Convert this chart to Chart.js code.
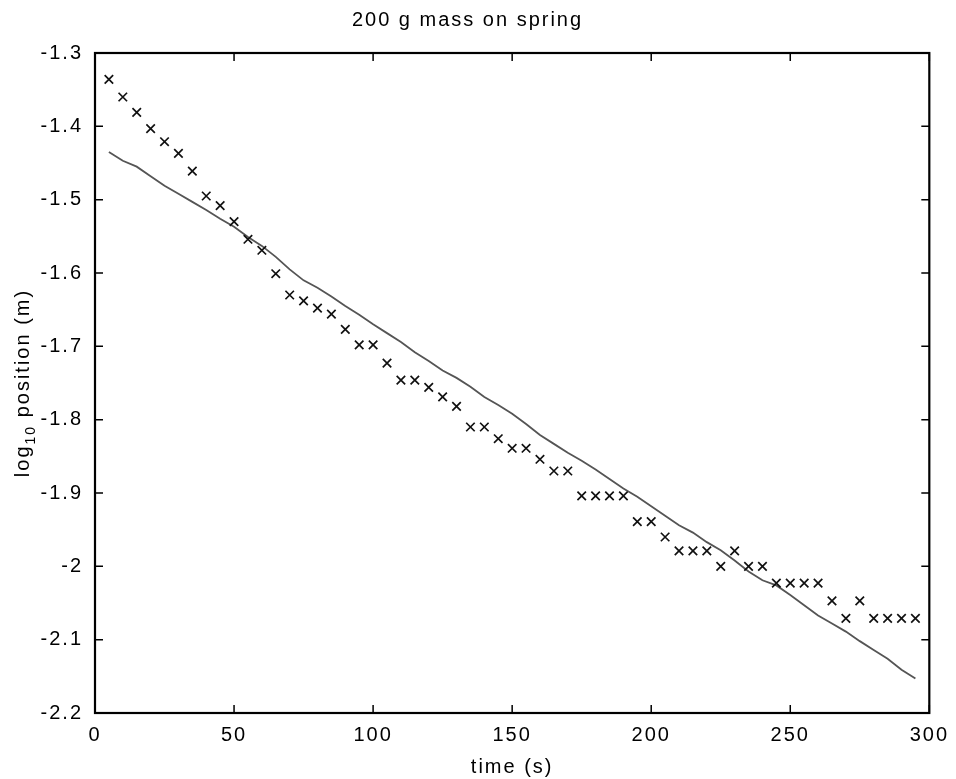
<!DOCTYPE html>
<html>
<head>
<meta charset="utf-8">
<script src="https://cdn.jsdelivr.net/npm/chart.js@4/dist/chart.umd.min.js"></script>
<style>
  html, body { margin: 0; background: #fff; }
  #wrap { width: 956px; height: 779px; }
</style>
</head>
<body>
<div id="wrap"><canvas id="chart"></canvas></div>
<script>
const times = [5, 10, 15, 20, 25, 30, 35, 40, 45, 50, 55, 60, 65, 70, 75, 80, 85, 90, 95, 100,
  105, 110, 115, 120, 125, 130, 135, 140, 145, 150, 155, 160, 165, 170, 175, 180, 185, 190, 195, 200,
  205, 210, 215, 220, 225, 230, 235, 240, 245, 250, 255, 260, 265, 270, 275, 280, 285, 290, 295];

// measured log10 position (crosses)
const measured = [-1.336, -1.360, -1.381, -1.403, -1.421, -1.437, -1.461, -1.495, -1.508, -1.530,
  -1.554, -1.569, -1.601, -1.630, -1.638, -1.648, -1.656, -1.677, -1.698, -1.698,
  -1.723, -1.746, -1.746, -1.756, -1.769, -1.782, -1.810, -1.810, -1.826, -1.839,
  -1.839, -1.854, -1.870, -1.870, -1.904, -1.904, -1.904, -1.904, -1.939, -1.939,
  -1.960, -1.979, -1.979, -1.979, -2.000, -1.979, -2.000, -2.000, -2.023, -2.023,
  -2.023, -2.023, -2.047, -2.071, -2.047, -2.071, -2.071, -2.071, -2.071];

// model curve (solid line)
const fitted = [-1.435, -1.447, -1.455, -1.468, -1.481, -1.492, -1.503, -1.514, -1.526, -1.537,
  -1.551, -1.563, -1.578, -1.595, -1.610, -1.620, -1.632, -1.645, -1.657, -1.670,
  -1.682, -1.694, -1.708, -1.720, -1.733, -1.743, -1.755, -1.769, -1.780, -1.792,
  -1.806, -1.821, -1.833, -1.845, -1.856, -1.868, -1.881, -1.894, -1.905, -1.918,
  -1.931, -1.944, -1.954, -1.967, -1.978, -1.992, -2.007, -2.019, -2.026, -2.039,
  -2.053, -2.067, -2.078, -2.089, -2.102, -2.114, -2.126, -2.141, -2.153];

const xTicks = [0, 50, 100, 150, 200, 250, 300];
const yTicks = [-2.2, -2.1, -2, -1.9, -1.8, -1.7, -1.6, -1.5, -1.4, -1.3];

const FONT = 'Liberation Sans, Arial, sans-serif';

const spacing = {
  id: 'spacing',
  beforeDraw(chart) { chart.ctx.letterSpacing = '2px'; }
};

const frame = {
  id: 'frame',
  afterDraw(chart) {
    const ctx = chart.ctx;
    const a = chart.chartArea;
    const xs = chart.scales.x, ys = chart.scales.y;
    ctx.save();
    ctx.strokeStyle = '#000';
    ctx.lineWidth = 1.5;
    ctx.beginPath();
    xTicks.forEach(v => {
      const px = xs.getPixelForValue(v);
      ctx.moveTo(px, a.bottom); ctx.lineTo(px, a.bottom - 8);
      ctx.moveTo(px, a.top); ctx.lineTo(px, a.top + 8);
    });
    yTicks.forEach(v => {
      const py = ys.getPixelForValue(v);
      ctx.moveTo(a.left, py); ctx.lineTo(a.left + 8, py);
      ctx.moveTo(a.right, py); ctx.lineTo(a.right - 8, py);
    });
    ctx.stroke();
    ctx.lineWidth = 2.2;
    ctx.strokeRect(a.left, a.top, a.right - a.left, a.bottom - a.top);

    // y axis title with subscript
    ctx.fillStyle = '#000';
    ctx.letterSpacing = '2px';
    ctx.translate(23, (a.top + a.bottom) / 2);
    ctx.rotate(-Math.PI / 2);
    ctx.textBaseline = 'middle';
    ctx.textAlign = 'left';
    const big = '20px ' + FONT, small = '14px ' + FONT;
    ctx.font = big;
    const w1 = ctx.measureText('log').width;
    const w3 = ctx.measureText(' position (m)').width;
    ctx.font = small;
    const w2 = ctx.measureText('10').width;
    let x = -(w1 + w2 + w3) / 2;
    ctx.font = big;
    ctx.fillText('log', x, 0);
    x += w1;
    ctx.font = small;
    ctx.fillText('10', x, 8);
    x += w2;
    ctx.font = big;
    ctx.fillText(' position (m)', x, 0);
    ctx.restore();
  }
};

new Chart(document.getElementById('chart'), {
  type: 'scatter',
  data: {
    datasets: [
      {
        label: 'measured',
        data: times.map((t, i) => ({ x: t, y: measured[i] })),
        showLine: false,
        pointStyle: 'crossRot',
        pointRadius: 6,
        borderColor: '#111',
        borderWidth: 1.7
      },
      {
        label: 'fit',
        data: times.map((t, i) => ({ x: t, y: fitted[i] })),
        showLine: true,
        pointRadius: 0,
        borderColor: '#555',
        borderWidth: 1.8,
        tension: 0
      }
    ]
  },
  options: {
    responsive: true,
    maintainAspectRatio: false,
    animation: false,
    layout: { padding: { top: 0, right: 21, bottom: 0, left: 0 } },
    plugins: {
      legend: { display: false },
      tooltip: { enabled: false },
      title: {
        display: true,
        text: '200 g mass on spring',
        color: '#000',
        font: { family: FONT, size: 20, weight: 'normal' },
        padding: { top: 8, bottom: 21 }
      }
    },
    scales: {
      x: {
        type: 'linear',
        min: 0, max: 300,
        afterBuildTicks: s => { s.ticks = xTicks.map(v => ({ value: v })); },
        afterFit: s => { s.height = 66; },
        grid: { display: false, drawTicks: false },
        border: { display: false },
        ticks: { color: '#000', font: { family: FONT, size: 20 }, padding: 10, maxRotation: 0 },
        title: { display: true, text: 'time (s)', color: '#000', font: { family: FONT, size: 20 }, padding: { top: 0, bottom: 0 } }
      },
      y: {
        type: 'linear',
        min: -2.2, max: -1.3,
        afterBuildTicks: s => { s.ticks = yTicks.map(v => ({ value: v })); },
        afterFit: s => { s.width = 95; },
        grid: { display: false, drawTicks: false },
        border: { display: false },
        ticks: { color: '#000', font: { family: FONT, size: 20 }, padding: 12,
          callback: v => String(Math.round(v * 10) / 10) }
      }
    }
  },
  plugins: [spacing, frame]
});
</script>
</body>
</html>
